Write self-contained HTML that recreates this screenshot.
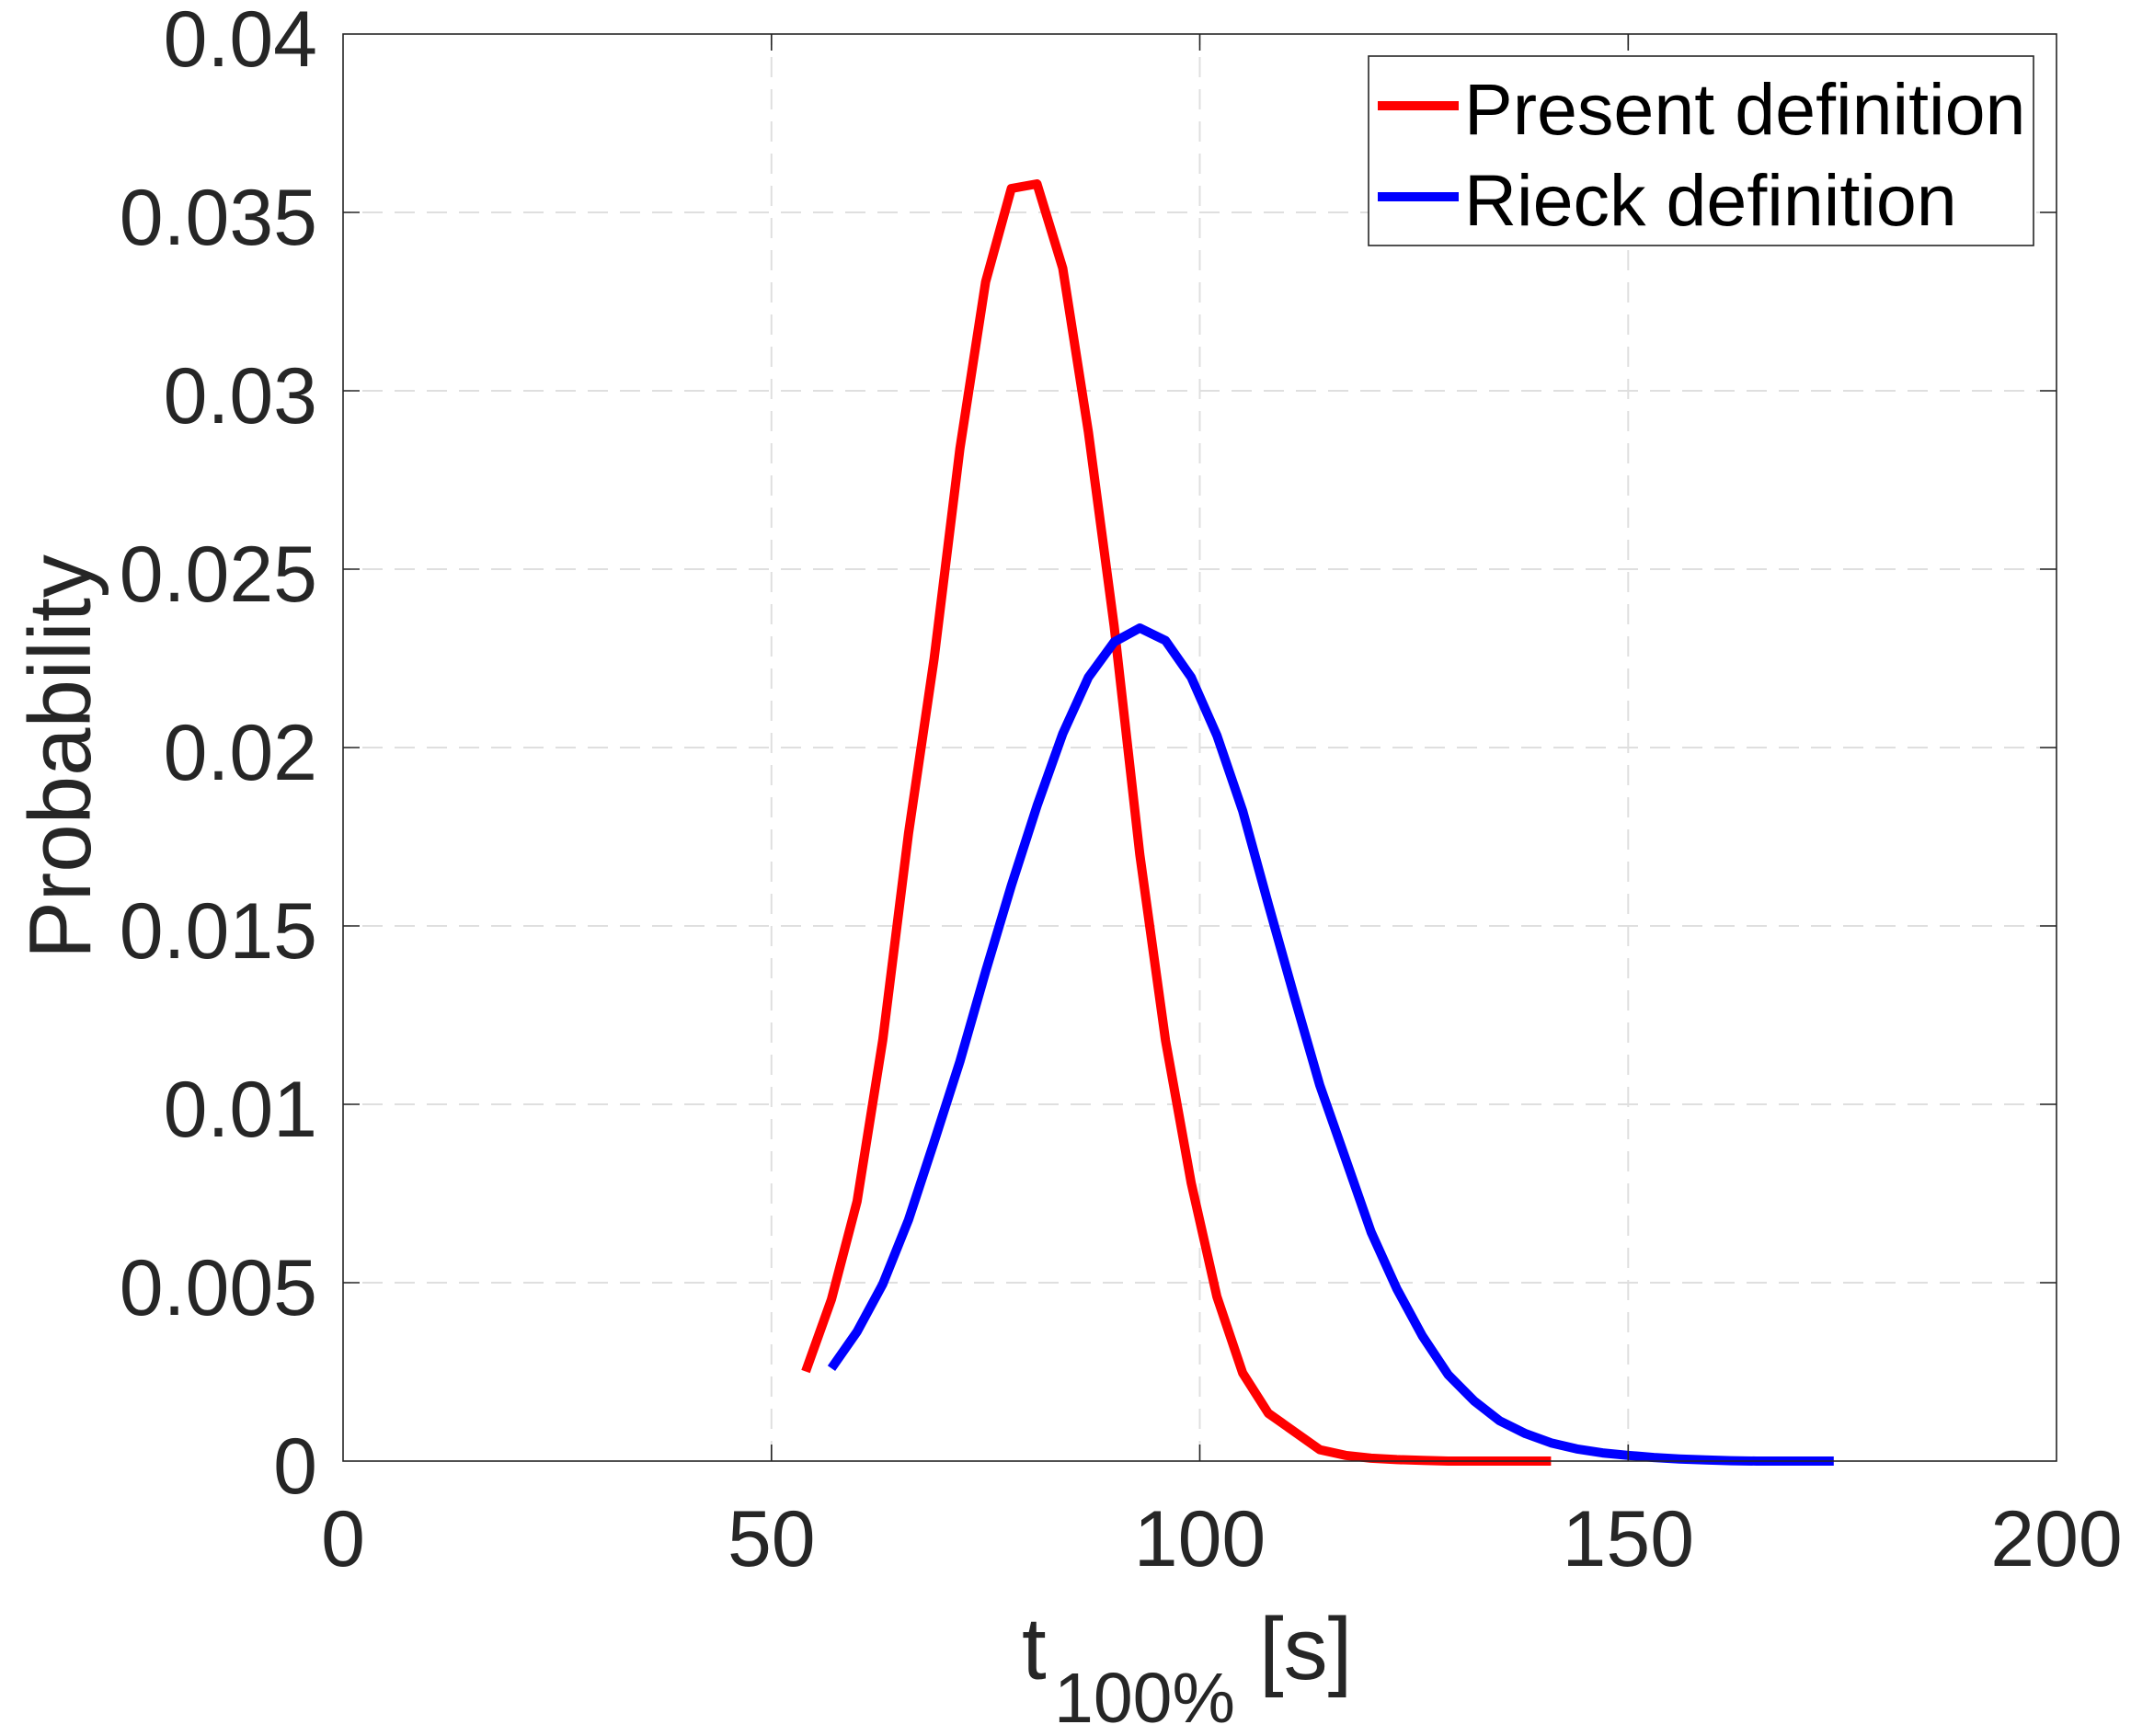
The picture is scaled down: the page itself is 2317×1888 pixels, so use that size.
<!DOCTYPE html>
<html>
<head>
<meta charset="utf-8">
<style>
  html, body { margin: 0; padding: 0; background: #ffffff; }
  svg { display: block; }
  text { font-family: "Liberation Sans", Arial, sans-serif; fill: #262626; }
</style>
</head>
<body>
<svg width="2317" height="1888" viewBox="0 0 2317 1888" xmlns="http://www.w3.org/2000/svg">
  <rect x="0" y="0" width="2317" height="1888" fill="#ffffff"/>

  <!-- grid lines -->
  <g stroke="#dfdfdf" stroke-width="2" stroke-dasharray="22 13" fill="none">
    <path d="M2236,1395 H373"/>
    <path d="M2236,1201 H373"/>
    <path d="M2236,1007 H373"/>
    <path d="M2236,813 H373"/>
    <path d="M2236,619 H373"/>
    <path d="M2236,425 H373"/>
    <path d="M2236,231 H373"/>
    <path d="M838.8,1589 V37"/>
    <path d="M1304.5,1589 V37"/>
    <path d="M1770.3,1589 V37"/>
  </g>

  <!-- data: Present definition (red) -->
  <polyline fill="none" stroke="#ff0000" stroke-width="10" stroke-linejoin="round" stroke-linecap="butt"
    points="876.0,1491.6 904.0,1413.2 931.9,1306.5 959.8,1131.2 987.8,906.5 1015.7,716 1043.7,487.9 1071.6,306.7 1099.6,205 1127.5,200 1155.5,291.7 1183.4,470 1211.4,681 1239.3,929.4 1267.2,1131.2 1295.2,1286.7 1323.1,1410.1 1351.1,1493.2 1379.0,1537 1407.0,1556.8 1434.9,1576.6 1462.9,1582.8 1490.8,1585.9 1518.7,1587.4 1546.7,1588.2 1574.6,1589 1686.4,1589"/>

  <!-- data: Rieck definition (blue) -->
  <polyline fill="none" stroke="#0000ff" stroke-width="10" stroke-linejoin="round" stroke-linecap="butt"
    points="904.0,1488.1 931.9,1448.2 959.8,1396.6 987.8,1326.7 1015.7,1241.7 1043.7,1154.4 1071.6,1056.7 1099.6,963.2 1127.5,876.6 1155.5,797.9 1183.4,736.6 1211.4,698.2 1239.3,683 1267.2,696.6 1295.2,736.6 1323.1,799.8 1351.1,881.7 1379.0,983.3 1407.0,1083 1434.9,1180 1462.9,1260 1490.8,1340 1518.7,1401.6 1546.7,1453.2 1574.6,1495.1 1602.6,1523.4 1630.5,1545.2 1658.5,1559.1 1686.4,1569.2 1714.4,1575.8 1742.3,1580.1 1770.3,1582.8 1798.2,1585.1 1826.1,1586.7 1854.1,1587.8 1882.0,1588.6 1910,1589 1993.8,1589"/>

  <!-- axes box -->
  <rect x="373" y="37" width="1863" height="1552" fill="none" stroke="#262626" stroke-width="1.6"/>

  <!-- ticks -->
  <g stroke="#262626" stroke-width="1.6" fill="none">
    <!-- left y ticks -->
    <path d="M373,1395 h18 M373,1201 h18 M373,1007 h18 M373,813 h18 M373,619 h18 M373,425 h18 M373,231 h18"/>
    <!-- right y ticks -->
    <path d="M2236,1395 h-18 M2236,1201 h-18 M2236,1007 h-18 M2236,813 h-18 M2236,619 h-18 M2236,425 h-18 M2236,231 h-18"/>
    <!-- bottom x ticks -->
    <path d="M838.8,1589 v-18 M1304.5,1589 v-18 M1770.3,1589 v-18"/>
    <!-- top x ticks -->
    <path d="M838.8,37 v18 M1304.5,37 v18 M1770.3,37 v18"/>
  </g>

  <!-- y tick labels -->
  <g font-size="86" text-anchor="end">
    <text x="345" y="1624">0</text>
    <text x="345" y="1430">0.005</text>
    <text x="345" y="1236">0.01</text>
    <text x="345" y="1042">0.015</text>
    <text x="345" y="848">0.02</text>
    <text x="345" y="654">0.025</text>
    <text x="345" y="460">0.03</text>
    <text x="345" y="266">0.035</text>
    <text x="345" y="72">0.04</text>
  </g>

  <!-- x tick labels -->
  <g font-size="86" text-anchor="middle">
    <text x="373" y="1703">0</text>
    <text x="838.8" y="1703">50</text>
    <text x="1304.5" y="1703">100</text>
    <text x="1770.3" y="1703">150</text>
    <text x="2236" y="1703">200</text>
  </g>

  <!-- x label -->
  <text x="1111" y="1826" font-size="96">t</text>
  <text x="1146" y="1873" font-size="77">100%</text>
  <text x="1369" y="1826" font-size="96">[s]</text>

  <!-- y label -->
  <text transform="translate(98,823) rotate(-90)" font-size="96" text-anchor="middle" textLength="440" lengthAdjust="spacingAndGlyphs">Probability</text>

  <!-- legend -->
  <rect x="1488" y="61" width="723" height="206" fill="#ffffff" stroke="#262626" stroke-width="1.6"/>
  <line x1="1498" y1="115" x2="1586" y2="115" stroke="#ff0000" stroke-width="10"/>
  <line x1="1498" y1="214" x2="1586" y2="214" stroke="#0000ff" stroke-width="10"/>
  <text x="1592" y="146" font-size="79" style="fill:#000000">Present definition</text>
  <text x="1592" y="245" font-size="79" style="fill:#000000">Rieck definition</text>
</svg>
</body>
</html>
